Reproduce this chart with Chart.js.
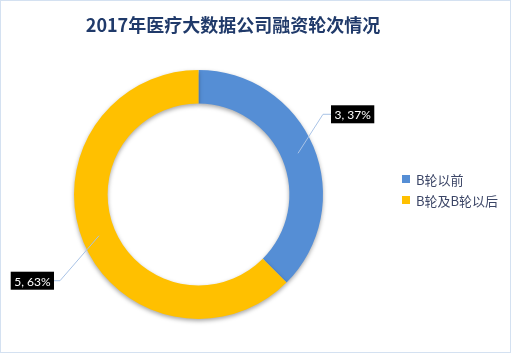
<!DOCTYPE html>
<html>
<head>
<meta charset="utf-8">
<script src="https://cdn.jsdelivr.net/npm/chart.js@4/dist/chart.umd.min.js"></script>
<style>
    html, body { margin: 0; padding: 0; background: #ffffff; }
    #chart { display: block; }
</style>
</head>
<body>
<canvas id="chart" width="511" height="353"></canvas>
<script>
"use strict";

// Chart data
const chartTitle = '2017年医疗大数据公司融资轮次情况';
const categories = ['B轮以前', 'B轮及B轮以后'];
const companyCounts = [3, 5];
const percentLabels = ['37%', '63%'];
const sliceColors = ['#558ED5', '#FFC000'];

/**
 * Label placement (leader line elbow offset from the slice centroid)
 */
const labelLayout = [
    { dx: 25, dy: -39, side: 'right' },
    { dx: -39, dy: 45, side: 'left' }
];

const FONT_CJK = '"Noto Sans CJK SC", "Noto Sans", sans-serif';

const decorPlugin = {
    id: 'decor',
    beforeDraw(chart) {
        const ctx = chart.ctx;
        ctx.save();
        ctx.strokeStyle = '#d4e1f1';
        ctx.lineWidth = 1;
        ctx.strokeRect(0.5, 0.5, chart.width - 1, chart.height - 1);

        // Title
        ctx.fillStyle = '#203a6a';
        ctx.font = 'bold 18px ' + FONT_CJK;
        ctx.textAlign = 'center';
        ctx.textBaseline = 'middle';
        ctx.fillText(chartTitle, 233, 25);

        // Legend
        ctx.font = '13px ' + FONT_CJK;
        ctx.textAlign = 'left';
        categories.forEach((name, i) => {
            const y = 179 + i * 21;
            ctx.fillStyle = sliceColors[i];
            ctx.fillRect(402, y - 4, 8, 8);
            ctx.fillStyle = '#3b4566';
            ctx.fillText(name, 416, y + 1);
        });
        ctx.restore();
    },
    beforeDatasetsDraw(chart) {
        const ctx = chart.ctx;
        ctx.save();
        ctx.shadowColor = 'rgba(0, 0, 0, 0.35)';
        ctx.shadowBlur = 4;
        ctx.shadowOffsetY = 2;
    },
    afterDatasetsDraw(chart) {
        const ctx = chart.ctx;
        ctx.restore();

        const meta = chart.getDatasetMeta(0);
        ctx.save();
        ctx.font = '12px Lato, "Liberation Sans", sans-serif';
        ctx.textBaseline = 'middle';
        meta.data.forEach((arc, i) => {
            const anchor = arc.tooltipPosition();
            const lay = labelLayout[i];
            const ex = anchor.x + lay.dx;
            const ey = anchor.y + lay.dy;
            const text = companyCounts[i] + ', ' + percentLabels[i];
            const w = ctx.measureText(text).width + 7;
            const h = 18;
            const gap = lay.side === 'right' ? 8 : -6;
            const bx = lay.side === 'right' ? ex + gap : ex + gap - w;

            ctx.strokeStyle = '#a9c3e6';
            ctx.lineWidth = 1;
            ctx.beginPath();
            ctx.moveTo(anchor.x, anchor.y);
            ctx.lineTo(ex, ey);
            ctx.lineTo(ex + gap, ey);
            ctx.stroke();

            ctx.fillStyle = '#000000';
            ctx.fillRect(bx, ey - h / 2, w, h);
            ctx.fillStyle = '#ffffff';
            ctx.textAlign = 'center';
            ctx.fillText(text, bx + w / 2, ey + 1);
        });
        ctx.restore();
    }
};

new Chart(document.getElementById('chart'), {
    type: 'doughnut',
    data: {
        labels: categories,
        datasets: [{
            data: companyCounts,
            backgroundColor: sliceColors,
            borderWidth: 0,
            hoverOffset: 0,
            offset: 0
        }]
    },
    options: {
        responsive: false,
        animation: false,
        events: [],
        cutout: '73%',
        layout: {
            padding: { left: 74, top: 70, right: 188, bottom: 34 }
        },
        plugins: {
            legend: { display: false },
            title: { display: false },
            tooltip: { enabled: false }
        }
    },
    plugins: [decorPlugin]
});
</script>
</body>
</html>
